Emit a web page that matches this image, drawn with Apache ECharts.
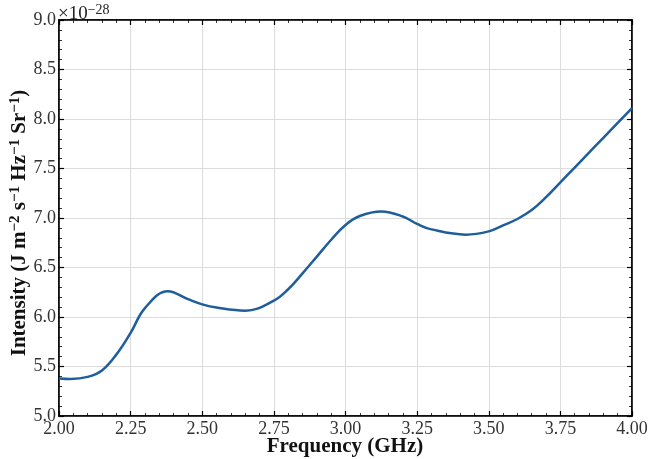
<!DOCTYPE html>
<html><head><meta charset="utf-8">
<script src="https://cdn.jsdelivr.net/npm/echarts@6/dist/echarts.min.js"></script>
<style>html,body{margin:0;padding:0;background:#fff}#c{width:649px;height:459px}</style>
</head><body><div id="c"></div>
<script>
const freq = [2.00,2.04,2.10,2.15,2.20,2.25,2.30,2.38,2.45,2.50,2.55,2.65,2.75,2.80,2.85,2.90,2.95,3.00,3.05,3.125,3.20,3.25,3.30,3.42,3.50,3.55,3.60,3.65,3.70,3.75,3.80,3.85,3.90,3.95,4.00];
const intensity = [5.38,5.375,5.395,5.46,5.62,5.84,6.09,6.26,6.18,6.128,6.095,6.064,6.165,6.28,6.44,6.61,6.78,6.93,7.02,7.065,7.015,6.94,6.885,6.832,6.865,6.925,6.99,7.08,7.21,7.36,7.51,7.66,7.81,7.96,8.11];
const xTicks = [2.00,2.25,2.50,2.75,3.00,3.25,3.50,3.75,4.00];
const yTicks = [5.0,5.5,6.0,6.5,7.0,7.5,8.0,8.5,9.0];
const xLabel = 'Frequency (GHz)';
const yLabel = 'Intensity (J m{s|−2} s{s|−1} Hz{s|−1} Sr{s|−1})';
const exponentText = '×10{s|−28}';

const font = 'Liberation Serif, DejaVu Serif, serif';
const data = freq.map((f,i)=>[f,intensity[i]]);
const tickCommon = {inside:true, length:5, lineStyle:{color:'#000', width:1.2}};
const minorCommon = {show:true, splitNumber:5, length:3, lineStyle:{color:'#000', width:0.8}};
const chart = echarts.init(document.getElementById('c'));
chart.setOption({
  animation:false,
  backgroundColor:'#fff',
  grid:{left:59, right:17, top:20, bottom:43, show:true, borderColor:'#000', borderWidth:1.5, containLabel:false, outerBoundsMode:'none'},
  graphic:[
    {type:'text', left:58, top:3, style:{text:exponentText, font:'19px '+font, fill:'#222',
      rich:{s:{fontSize:14, fontFamily:font, padding:[0,0,9,0], fill:'#222'}}}},
    {type:'text', x:345, y:447, style:{text:xLabel, font:'bold 21px '+font, fill:'#111', align:'center', verticalAlign:'middle'}},
    {type:'text', x:20, y:223, rotation:Math.PI/2, style:{text:yLabel, font:'bold 21px '+font, fill:'#111', align:'center', verticalAlign:'middle',
      rich:{s:{fontSize:15, fontWeight:'bold', fontFamily:font, padding:[0,0,10,0], fill:'#111'}}}}
  ],
  xAxis:[{
    type:'value', min:xTicks[0], max:xTicks[xTicks.length-1], interval:0.25,
    axisLine:{show:true, lineStyle:{color:'#000', width:1.5}},
    axisTick:tickCommon, minorTick:minorCommon,
    axisLabel:{fontFamily:font, fontSize:18, color:'#333', margin:4, formatter:v=>v.toFixed(2)},
    splitLine:{show:true, lineStyle:{color:'#dcdcdc', width:1}}
  },{
    type:'value', position:'top', min:xTicks[0], max:xTicks[xTicks.length-1], interval:0.25,
    axisLine:{show:true, lineStyle:{color:'#000', width:1.5}},
    axisTick:tickCommon, minorTick:minorCommon, axisLabel:{show:false}, splitLine:{show:false}
  }],
  yAxis:[{
    type:'value', min:yTicks[0], max:yTicks[yTicks.length-1], interval:0.5,
    axisLine:{show:true, lineStyle:{color:'#000', width:1.5}},
    axisTick:tickCommon, minorTick:minorCommon,
    axisLabel:{fontFamily:font, fontSize:18, color:'#333', margin:3, formatter:v=>v.toFixed(1)},
    splitLine:{show:true, lineStyle:{color:'#dcdcdc', width:1}}
  },{
    type:'value', position:'right', min:yTicks[0], max:yTicks[yTicks.length-1], interval:0.5,
    axisLine:{show:true, lineStyle:{color:'#000', width:1.5}},
    axisTick:tickCommon, minorTick:minorCommon, axisLabel:{show:false}, splitLine:{show:false}
  }],
  series:[{type:'line', data:data, smooth:0.4, showSymbol:false, symbol:'none',
    lineStyle:{color:'#1f5e9c', width:2.5}}]
});
</script></body></html>
